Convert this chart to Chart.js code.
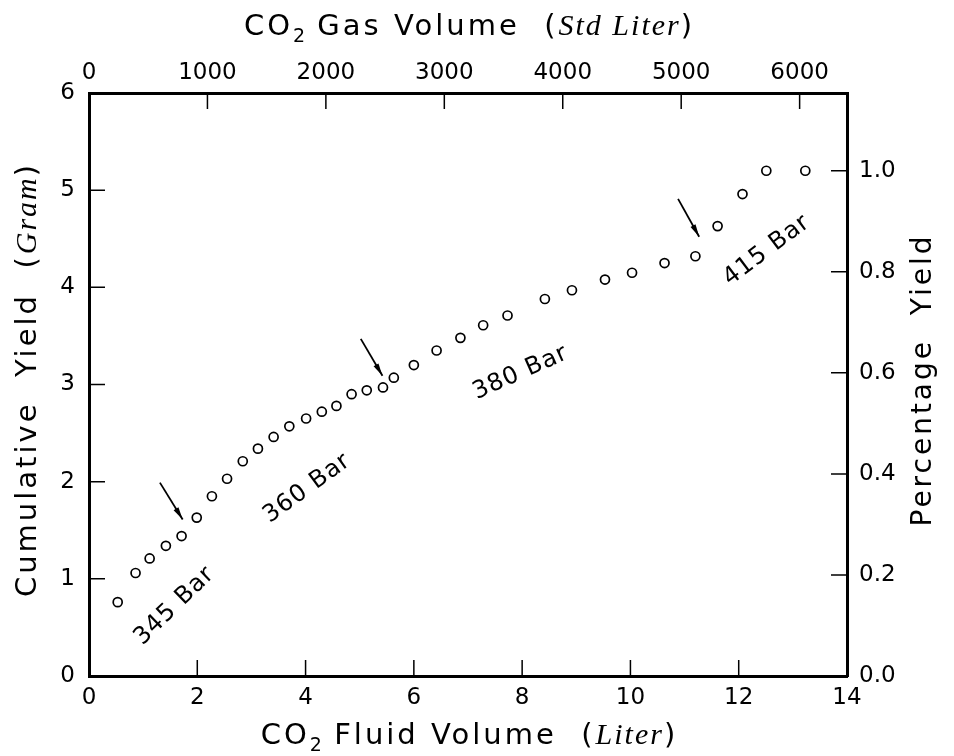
<!DOCTYPE html>
<html>
<head>
<meta charset="utf-8">
<script src="https://cdn.jsdelivr.net/npm/chart.js"></script>
<style>
  html, body { margin: 0; padding: 0; background: #fff; }
  canvas { display: block; }
</style>
</head>
<body>
<canvas id="chart" width="954" height="756"></canvas>
<script>
// fluid volume (L) vs cumulative yield (g)
const fluidVolume = [0.53, 0.86, 1.12, 1.42, 1.71, 1.99, 2.27, 2.55, 2.84, 3.12, 3.41, 3.70,
  4.01, 4.30, 4.57, 4.85, 5.13, 5.43, 5.63, 6.00, 6.42, 6.86, 7.28, 7.73, 8.42, 8.92,
  9.53, 10.03, 10.63, 11.20, 11.61, 12.07, 12.51, 13.23];
const yieldGram = [0.76, 1.06, 1.21, 1.34, 1.44, 1.63, 1.85, 2.03, 2.21, 2.34, 2.46, 2.57,
  2.65, 2.72, 2.78, 2.90, 2.94, 2.97, 3.07, 3.20, 3.35, 3.48, 3.61, 3.71, 3.88, 3.97,
  4.08, 4.15, 4.25, 4.32, 4.63, 4.96, 5.20, 5.20];

const fluidTicks = [0, 2, 4, 6, 8, 10, 12, 14];
const gasTicks = [0, 1000, 2000, 3000, 4000, 5000, 6000];
const gramTicks = [0, 1, 2, 3, 4, 5, 6];
const fractionTicks = [0, 0.2, 0.4, 0.6, 0.8, 1.0];

const gasMax = 6400;       // std liter at 14 L fluid
const totalGram = 5.2;     // 100% yield

const pressureLabels = ['345 Bar', '360 Bar', '380 Bar', '415 Bar'];
const pressureLabelX = [1.58, 4.03, 7.97, 12.52];
const pressureLabelY = [0.72, 1.93, 3.12, 4.38];
const pressureAngle = [-44, -36, -24, -37];
// arrows pointing at the pressure steps
const arrowFromX = [1.31, 5.02, 10.88];
const arrowFromY = [1.99, 3.47, 4.91];
const arrowToX = [1.73, 5.42, 11.27];
const arrowToY = [1.61, 3.09, 4.52];

const FONT = 'DejaVu Sans';
const SCRIPT = 'Liberation Serif';
const tickFont = { family: FONT, size: 23 };

function fixTicks(list) {
  return s => { s.ticks = list.map(v => ({ value: v })); };
}

// ticks drawn inside the frame
const innerTicks = {
  id: 'innerTicks',
  afterDraw(chart) {
    const { ctx, chartArea: a, scales } = chart;
    const L = 16;
    ctx.save();
    ctx.strokeStyle = '#000';
    ctx.lineWidth = 1.5;
    ctx.beginPath();
    scales.x.ticks.forEach(t => {
      const p = scales.x.getPixelForValue(t.value);
      if (p < a.left + 3 || p > a.right - 3) return;
      ctx.moveTo(p, a.bottom); ctx.lineTo(p, a.bottom - L);
    });
    scales.x2.ticks.forEach(t => {
      const p = scales.x2.getPixelForValue(t.value);
      if (p < a.left + 3 || p > a.right - 3) return;
      ctx.moveTo(p, a.top); ctx.lineTo(p, a.top + L);
    });
    scales.y.ticks.forEach(t => {
      const p = scales.y.getPixelForValue(t.value);
      if (p < a.top + 3 || p > a.bottom - 3) return;
      ctx.moveTo(a.left, p); ctx.lineTo(a.left + L, p);
    });
    scales.y2.ticks.forEach(t => {
      const p = scales.y2.getPixelForValue(t.value);
      if (p < a.top + 3 || p > a.bottom - 3) return;
      ctx.moveTo(a.right, p); ctx.lineTo(a.right - L, p);
    });
    ctx.stroke();
    ctx.restore();
  }
};

// text made of pieces (subscripts, script font)
function drawRich(ctx, parts, x, y, rot) {
  ctx.save();
  ctx.translate(x, y);
  ctx.rotate(rot);
  ctx.textBaseline = 'middle';
  ctx.fillStyle = '#000';
  let w = 0;
  parts.forEach(p => {
    ctx.font = p.font;
    ctx.letterSpacing = p.sp || '0px';
    p.w = ctx.measureText(p.t).width;
    w += p.w;
  });
  let cx = -w / 2;
  parts.forEach(p => {
    ctx.font = p.font;
    ctx.letterSpacing = p.sp || '0px';
    ctx.fillText(p.t, cx, p.dy || 0);
    cx += p.w;
  });
  ctx.restore();
}

const titles = {
  id: 'titles',
  afterDraw(chart) {
    const { ctx, chartArea: a } = chart;
    const main = '29px "' + FONT + '"';
    const sub = '19px "' + FONT + '"';
    const scr = 'italic 30px "' + SCRIPT + '"';
    const cx = (a.left + a.right) / 2;
    drawRich(ctx, [
      { t: 'CO', font: main, sp: '3px' }, { t: '2', font: sub, dy: 10 },
      { t: ' Fluid Volume  (', font: main, sp: '3px' }, { t: 'Liter', font: scr, sp: '2px' },
      { t: ')', font: main }
    ], cx, 736, 0);
    drawRich(ctx, [
      { t: 'CO', font: main, sp: '3px' }, { t: '2', font: sub, dy: 10 },
      { t: ' Gas Volume  (', font: main, sp: '3px' }, { t: 'Std Liter', font: scr, sp: '2px' },
      { t: ')', font: main }
    ], cx, 27, 0);
    const big = '29px "' + FONT + '"';
    drawRich(ctx, [
      { t: 'Cumulative  Yield  (', font: big, sp: '3px' },
      { t: 'Gram', font: 'italic 30px "' + SCRIPT + '"', sp: '2px' },
      { t: ')', font: big }
    ], 28, 381, -Math.PI / 2);
    drawRich(ctx, [{ t: 'Percentage  Yield', font: '28px "' + FONT + '"', sp: '3px' }],
      924, 380, -Math.PI / 2);
  }
};

const notes = {
  id: 'notes',
  afterDatasetsDraw(chart) {
    const { ctx, scales: { x, y } } = chart;
    ctx.save();
    ctx.fillStyle = '#000';
    ctx.strokeStyle = '#000';
    ctx.font = '24px "' + FONT + '"';
    ctx.textAlign = 'center';
    ctx.textBaseline = 'middle';
    pressureLabels.forEach((t, i) => {
      ctx.save();
      ctx.translate(x.getPixelForValue(pressureLabelX[i]), y.getPixelForValue(pressureLabelY[i]));
      ctx.rotate(pressureAngle[i] * Math.PI / 180);
      ctx.letterSpacing = '1px';
      ctx.fillText(t, 0, 0);
      ctx.restore();
    });
    ctx.lineWidth = 1.8;
    arrowFromX.forEach((_, i) => {
      const x0 = x.getPixelForValue(arrowFromX[i]), y0 = y.getPixelForValue(arrowFromY[i]);
      const x1 = x.getPixelForValue(arrowToX[i]), y1 = y.getPixelForValue(arrowToY[i]);
      const ang = Math.atan2(y1 - y0, x1 - x0);
      ctx.beginPath();
      ctx.moveTo(x0, y0); ctx.lineTo(x1, y1);
      ctx.stroke();
      ctx.beginPath();
      ctx.moveTo(x1, y1);
      ctx.lineTo(x1 - 13 * Math.cos(ang - 0.22), y1 - 13 * Math.sin(ang - 0.22));
      ctx.lineTo(x1 - 13 * Math.cos(ang + 0.22), y1 - 13 * Math.sin(ang + 0.22));
      ctx.closePath();
      ctx.fill();
    });
    ctx.restore();
  }
};

const frame = { display: true, width: 3, color: '#000' };
const noGrid = { drawOnChartArea: false, drawTicks: false };

new Chart(document.getElementById('chart'), {
  type: 'scatter',
  data: {
    datasets: [{
      data: fluidVolume.map((v, i) => ({ x: v, y: yieldGram[i] })),
      xAxisID: 'x',
      yAxisID: 'y',
      pointStyle: 'circle',
      pointRadius: 4.5,
      pointBorderWidth: 1.7,
      pointBackgroundColor: 'rgba(0,0,0,0)',
      pointBorderColor: '#000'
    }]
  },
  options: {
    responsive: false,
    animation: false,
    events: [],
    layout: { padding: 0 },
    plugins: { legend: { display: false }, tooltip: { enabled: false } },
    scales: {
      x: {
        type: 'linear', position: 'bottom', min: 0, max: 14,
        afterBuildTicks: fixTicks(fluidTicks),
        afterFit: s => { s.height = 80; },
        grid: noGrid, border: frame,
        ticks: { font: tickFont, color: '#000', padding: 8, maxRotation: 0, autoSkip: false }
      },
      x2: {
        type: 'linear', position: 'top', axis: 'x', min: 0, max: gasMax,
        afterBuildTicks: fixTicks(gasTicks),
        afterFit: s => { s.height = 93; },
        grid: noGrid, border: frame,
        ticks: { font: tickFont, color: '#000', padding: 6, maxRotation: 0, autoSkip: false,
                 callback: v => String(v) }
      },
      y: {
        type: 'linear', position: 'left', min: 0, max: 6,
        afterBuildTicks: fixTicks(gramTicks),
        afterFit: s => { s.width = 89; },
        grid: noGrid, border: frame,
        ticks: { font: tickFont, color: '#000', padding: 14 }
      },
      y2: {
        type: 'linear', position: 'right', min: 0, max: 6 / totalGram,
        afterBuildTicks: fixTicks(fractionTicks),
        afterFit: s => { s.width = 107; },
        grid: noGrid, border: frame,
        ticks: { font: tickFont, color: '#000', padding: 12, callback: v => v.toFixed(1) }
      }
    }
  },
  plugins: [innerTicks, notes, titles]
});
</script>
</body>
</html>
